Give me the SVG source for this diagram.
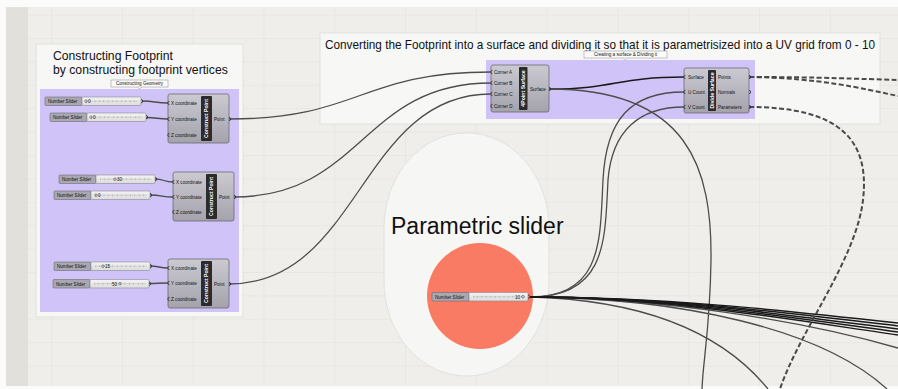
<svg xmlns="http://www.w3.org/2000/svg" xmlns:xlink="http://www.w3.org/1999/xlink" width="898" height="389" viewBox="0 0 898 389">
<style>
.t{font-family:"Liberation Sans",Arial,sans-serif;fill:#111}
.tiny{font-family:"Liberation Sans",Arial,sans-serif;font-size:4.6px;fill:#111}
.bandt{font-family:"Liberation Sans",Arial,sans-serif;font-size:5.2px;font-weight:bold;fill:#fff}
.comp{fill:url(#cg);stroke:#6c6b75;stroke-width:0.8}
.band{fill:#2b2b2e}
.nub{fill:none;stroke:#222;stroke-width:0.7}
.wire{fill:none;stroke:#4d4d4d;stroke-width:1.3}
.wk{fill:none;stroke:#1a1a1a;stroke-width:1.5}
.dash{fill:none;stroke:#4a4a4a;stroke-width:2;stroke-dasharray:5 2.5}
.sl{fill:#a9a8b1;stroke:#6c6b75;stroke-width:0.6}
.st{fill:url(#sg);stroke:#8a8a90;stroke-width:0.6}
.tag{fill:#fbfbfb;stroke:#888;stroke-width:0.5}
</style>
<defs>
<linearGradient id="cg" x1="0" y1="0" x2="0" y2="1"><stop offset="0" stop-color="#cbcad1"/><stop offset="1" stop-color="#a4a3ac"/></linearGradient>
<linearGradient id="sg" x1="0" y1="0" x2="0" y2="1"><stop offset="0" stop-color="#f4f4f4"/><stop offset="1" stop-color="#dcdcdc"/></linearGradient>
<pattern id="grid" patternUnits="userSpaceOnUse" x="51" y="14.6" width="70.8" height="23.4">
<rect width="70.8" height="23.4" fill="#efeeea"/>
<path d="M0,0 V23.4 M0,0 H70.8" stroke="#e1e0da" stroke-width="1" fill="none"/>
</pattern>
<g id="slider">
<rect class="sl" x="0" y="0" width="37" height="8.5" rx="1"/>
<rect class="st" x="37" y="0" width="59" height="8.5" rx="1"/>
<text class="tiny" x="3" y="6">Number Slider</text>
<line x1="41" y1="4.2" x2="93" y2="4.2" stroke="#aaa" stroke-width="0.4"/>
<line x1="41" y1="4.2" x2="93" y2="4.2" stroke="#999" stroke-width="2" stroke-dasharray="0.4 4"/>
<path class="nub" d="M96,2.5 a1.7,1.7 0 0 1 0,3.4"/>
</g>
</defs>

<!-- canvas -->
<rect x="0" y="0" width="898" height="389" fill="url(#grid)"/>
<rect x="0" y="0" width="28" height="389" fill="#e2e0da"/>
<rect x="0" y="0" width="6" height="389" fill="#fbfbfa"/>
<rect x="0" y="0" width="898" height="7" fill="#fbfbfa"/>
<rect x="0" y="386" width="898" height="3" fill="#fbfbfa"/>

<!-- left group -->
<g id="group-footprint">
<rect x="36" y="44" width="207" height="273" fill="#f7f7f5" stroke="#dcdcda" stroke-width="0.8"/>
<text class="t" x="53" y="60" font-size="12.2">Constructing Footprint</text>
<text class="t" x="53" y="74" font-size="12.2">by constructing footprint vertices</text>
<rect x="40" y="89" width="199" height="223" fill="#d0c3f7"/>
<g id="tag-geometry">
<rect class="tag" x="111" y="80" width="57" height="7"/>
<text class="tiny" x="139.5" y="85.3" text-anchor="middle" font-size="4.4">Constructing Geometry</text>
<path d="M137.5,87 L139.5,89 L141.5,87" fill="#fbfbfb" stroke="#888" stroke-width="0.5"/>
</g>
</g>

<!-- right group -->
<g id="group-surface">
<rect x="320" y="33" width="560" height="91" fill="#f7f7f5" stroke="#dcdcda" stroke-width="0.8"/>
<text class="t" x="325" y="49" font-size="12.2" textLength="550" lengthAdjust="spacingAndGlyphs">Converting the Footprint into a surface and dividing it so that it is parametrisized into a UV grid from 0 - 10</text>
<rect x="486" y="60" width="269" height="59" fill="#d0c3f7"/>
<g id="tag-surface">
<rect class="tag" x="584" y="51" width="83" height="7"/>
<text class="tiny" x="625.5" y="56.3" text-anchor="middle" font-size="4.4">Creating a surface &amp; Dividing it</text>
<path d="M623.5,58 L625.5,60 L627.5,58" fill="#fbfbfb" stroke="#888" stroke-width="0.5"/>
</g>
</g>

<!-- parametric slider area -->
<g id="group-parametric">
<rect x="384" y="133" width="165" height="243" rx="82" ry="95" fill="#f6f6f4" stroke="#dcdcda" stroke-width="0.8"/>
<text class="t" x="391" y="234" font-size="23">Parametric slider</text>
<circle cx="480" cy="296" r="53" fill="#f97b63"/>
</g>

<!-- connectors -->
<g id="connectors">
<path class="wire" d="M142,101 C155,101 155,103 168,103"/>
<path class="wire" d="M146,117.5 C157,117.5 157,119 168,119"/>
<path class="wire" d="M155,179 C164,179 164,182 173,182"/>
<path class="wire" d="M150,195 C162,195 162,197 173,197"/>
<path class="wire" d="M150,266 C159,266 159,268 168,268"/>
<path class="wire" d="M149,283.5 C158,283.5 158,283 168,283"/>
<path class="wire" d="M229,119 C360,119 360,72 491,72"/>
<path class="wire" d="M234,197 C362,197 362,83 491,83"/>
<path class="wire" d="M229,284 C360,284 360,94 491,94"/>
<path class="wk" d="M549,89 C616,89 616,77 684,77"/>
<path class="wire" d="M549,89 C690,89 712,170 711,260 C710,330 703,360 702,389"/>
<path class="wire" d="M530,297 C603,297 600,240 603,180 C606,120 630,92 684,92"/>
<path class="wire" d="M530,297 C607,297 605,240 608,180 C612,130 640,107 684,107"/>
<path class="wire" d="M530,297 C640,300 720,330 768,389"/>
<path class="wire" d="M530,297 C680,298 820,328 887,389"/>
<path class="wire" d="M530,297 C660,298 800,320 898,348"/>
<path class="wk" d="M530,297 C660,297 780,310 898,323"/>
<path class="wk" d="M530,297 C660,297 780,312 898,326"/>
<path class="wk" d="M530,297 C660,297 780,314 898,329"/>
<path class="wk" d="M530,297 C660,297 780,316 898,332"/>
<path class="wk" d="M530,297 C660,297 780,318 898,335"/>
<path class="dash" d="M749,77 C820,77 860,79 898,80"/>
<path class="dash" d="M749,77 C820,78 860,88 898,96"/>
<path class="dash" d="M749,107 C840,107 870,140 863,200 C856,260 800,330 780,389"/>
</g>

<!-- sliders -->
<g id="slider-1"><use xlink:href="#slider" x="45" y="97"/><circle cx="86" cy="101.2" r="1.3" fill="none" stroke="#333" stroke-width="0.5"/><text class="tiny" x="88" y="103">0</text></g>
<g id="slider-2"><use xlink:href="#slider" x="50" y="113"/><circle cx="91" cy="117.2" r="1.3" fill="none" stroke="#333" stroke-width="0.5"/><text class="tiny" x="93" y="119">0</text></g>
<g id="slider-3"><use xlink:href="#slider" x="59" y="175"/><circle cx="115" cy="179.2" r="1.3" fill="none" stroke="#333" stroke-width="0.5"/><text class="tiny" x="117" y="181">30</text></g>
<g id="slider-4"><use xlink:href="#slider" x="54" y="191"/><circle cx="96" cy="195.2" r="1.3" fill="none" stroke="#333" stroke-width="0.5"/><text class="tiny" x="98" y="197">0</text></g>
<g id="slider-5"><use xlink:href="#slider" x="54" y="262"/><circle cx="103" cy="266.2" r="1.3" fill="none" stroke="#333" stroke-width="0.5"/><text class="tiny" x="105" y="268">15</text></g>
<g id="slider-6"><use xlink:href="#slider" x="53" y="279.5"/><circle cx="120" cy="283.7" r="1.3" fill="none" stroke="#333" stroke-width="0.5"/><text class="tiny" x="112" y="285.5">50</text></g>
<g id="slider-param"><use xlink:href="#slider" x="432" y="292.5"/><circle cx="523" cy="296.7" r="1.3" fill="none" stroke="#333" stroke-width="0.5"/><text class="tiny" x="515" y="298.5">10</text></g>

<!-- construct point 1 -->
<g id="construct-point-1" transform="translate(168,94)">
<rect class="comp" x="0" y="0" width="61" height="49" rx="2"/>
<rect class="band" x="33" y="2" width="11" height="45" rx="1"/>
<text class="bandt" transform="translate(40.3,24.5) rotate(-90)" text-anchor="middle">Construct Point</text>
<text class="tiny" x="3" y="10.7">X coordinate</text>
<text class="tiny" x="3" y="26.7">Y coordinate</text>
<text class="tiny" x="3" y="42.7">Z coordinate</text>
<text class="tiny" x="46" y="26.7">Point</text>
<path class="nub" d="M1.5,7.3 a1.7,1.7 0 0 0 0,3.4 M1.5,23.3 a1.7,1.7 0 0 0 0,3.4 M1.5,39.3 a1.7,1.7 0 0 0 0,3.4"/>
<path class="nub" d="M61,23.3 a1.7,1.7 0 0 1 0,3.4"/>
</g>
<g id="construct-point-2" transform="translate(173,172)">
<rect class="comp" x="0" y="0" width="61" height="49" rx="2"/>
<rect class="band" x="33" y="2" width="11" height="45" rx="1"/>
<text class="bandt" transform="translate(40.3,24.5) rotate(-90)" text-anchor="middle">Construct Point</text>
<text class="tiny" x="3" y="11.7">X coordinate</text>
<text class="tiny" x="3" y="26.7">Y coordinate</text>
<text class="tiny" x="3" y="41.7">Z coordinate</text>
<text class="tiny" x="46" y="26.7">Point</text>
<path class="nub" d="M1.5,8.3 a1.7,1.7 0 0 0 0,3.4 M1.5,23.3 a1.7,1.7 0 0 0 0,3.4 M1.5,38.3 a1.7,1.7 0 0 0 0,3.4"/>
<path class="nub" d="M61,23.3 a1.7,1.7 0 0 1 0,3.4"/>
</g>
<g id="construct-point-3" transform="translate(168,259)">
<rect class="comp" x="0" y="0" width="61" height="49" rx="2"/>
<rect class="band" x="33" y="2" width="11" height="45" rx="1"/>
<text class="bandt" transform="translate(40.3,24.5) rotate(-90)" text-anchor="middle">Construct Point</text>
<text class="tiny" x="3" y="10.7">X coordinate</text>
<text class="tiny" x="3" y="25.7">Y coordinate</text>
<text class="tiny" x="3" y="41.7">Z coordinate</text>
<text class="tiny" x="46" y="26.7">Point</text>
<path class="nub" d="M1.5,7.3 a1.7,1.7 0 0 0 0,3.4 M1.5,22.3 a1.7,1.7 0 0 0 0,3.4 M1.5,38.3 a1.7,1.7 0 0 0 0,3.4"/>
<path class="nub" d="M61,23.3 a1.7,1.7 0 0 1 0,3.4"/>
</g>

<!-- 4Point Surface -->
<g id="four-point-surface" transform="translate(491,65)">
<rect class="comp" x="0" y="0" width="58" height="47" rx="2"/>
<rect class="band" x="28" y="2" width="8.5" height="43" rx="1"/>
<text class="bandt" transform="translate(34,23.5) rotate(-90)" text-anchor="middle" font-size="4.8">4Point Surface</text>
<text class="tiny" x="3" y="8.7">Corner A</text>
<text class="tiny" x="3" y="19.7">Corner B</text>
<text class="tiny" x="3" y="30.7">Corner C</text>
<text class="tiny" x="3" y="42.7">Corner D</text>
<text class="tiny" x="39" y="25.7">Surface</text>
<path class="nub" d="M1.5,5.3 a1.7,1.7 0 0 0 0,3.4 M1.5,16.3 a1.7,1.7 0 0 0 0,3.4 M1.5,27.3 a1.7,1.7 0 0 0 0,3.4 M1.5,39.3 a1.7,1.7 0 0 0 0,3.4"/>
<path class="nub" d="M58,22.3 a1.7,1.7 0 0 1 0,3.4"/>
</g>

<!-- Divide Surface -->
<g id="divide-surface" transform="translate(684,68)">
<rect class="comp" x="0" y="0" width="65" height="45" rx="2"/>
<rect class="band" x="24" y="2" width="8" height="41" rx="1"/>
<text class="bandt" transform="translate(29.8,22.5) rotate(-90)" text-anchor="middle" font-size="4.8">Divide Surface</text>
<text class="tiny" x="4" y="10.7">Surface</text>
<text class="tiny" x="4" y="25.7">U Count</text>
<text class="tiny" x="4" y="40.7">V Count</text>
<text class="tiny" x="34" y="10.7">Points</text>
<text class="tiny" x="34" y="25.7">Normals</text>
<text class="tiny" x="34" y="40.7">Parameters</text>
<path class="nub" d="M1.5,7.3 a1.7,1.7 0 0 0 0,3.4 M1.5,22.3 a1.7,1.7 0 0 0 0,3.4 M1.5,37.3 a1.7,1.7 0 0 0 0,3.4"/>
<path class="nub" d="M65,7.3 a1.7,1.7 0 0 1 0,3.4 M65,22.3 a1.7,1.7 0 0 1 0,3.4 M65,37.3 a1.7,1.7 0 0 1 0,3.4"/>
</g>
</svg>
